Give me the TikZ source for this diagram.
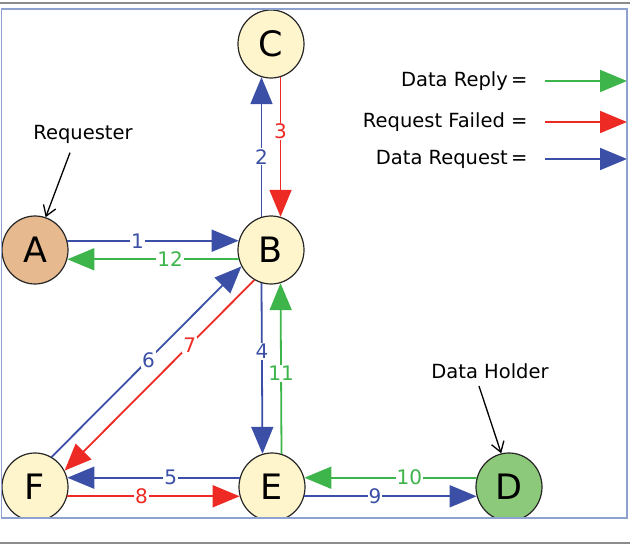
\documentclass[tikz,border=0pt]{standalone}
\usepackage{fontspec}
\setmainfont{DejaVu Sans}
\usetikzlibrary{arrows.meta, positioning, shapes.geometric}
\definecolor{reqblue}{HTML}{3A4FA5}
\definecolor{replygreen}{HTML}{3DB54A}
\definecolor{failred}{HTML}{EE2A24}
\definecolor{peerfill}{HTML}{FFF5CC}
\definecolor{askfill}{HTML}{E6BA8E}
\definecolor{holdfill}{HTML}{8CC97A}
\definecolor{framecol}{HTML}{8DA2CF}

\begin{document}
\begin{tikzpicture}[
        x=1pt, y=1pt,
        peer/.style={
            ellipse, draw=black!85, line width=1.2pt, fill=peerfill,
            minimum width=66pt, minimum height=68pt, inner sep=0pt,
            font=\fontsize{35}{35}\selectfont
        },
        msg/.style={line width=1.8pt, -{Triangle[length=27pt,width=22pt]}},
        num/.style={fill=white, inner sep=1pt, font=\fontsize{20}{20}\selectfont},
        note/.style={font=\fontsize{19.5}{20}\selectfont},
        pointer/.style={line width=1.3pt, -{Straight Barb[length=10pt,width=13pt]}}
    ]
        \useasboundingbox (0,0) rectangle (630,544);

        \begin{scope}
        \clip (1.5,26) rectangle (627,535);

        % Peers
        \node[peer, fill=askfill] (A) at (35,294) {A};
        \node[peer] (B) at (271,294) {B};
        \node[peer] (C) at (271,500) {C};
        \node[peer, fill=holdfill] (D) at (509,57) {D};
        \node[peer] (E) at (272,57) {E};
        \node[peer] (F) at (35,57) {F};

        % Messages
        \draw[msg, reqblue] (A.16) -- node[num, pos=0.41] {1} (B.164);
        \draw[msg, reqblue] (B.106) -- node[num, pos=0.43] {2} (C.254);
        \draw[msg, failred] (C.286) -- node[num, pos=0.39] {3} (B.74);
        \draw[msg, reqblue] (B.254) -- node[num, pos=0.4] {4} (E.106);
        \draw[msg, reqblue] (E.164) -- node[num, pos=0.4] {5} (F.16);
        \draw[msg, reqblue] (F.61) -- node[num, pos=0.51] {6} (B.209);
        \draw[msg, failred] (B.241) -- node[num, pos=0.34] {7} (F.29);
        \draw[msg, failred] (F.344) -- node[num, pos=0.43] {8} (E.196);
        \draw[msg, reqblue] (E.344) -- node[num, pos=0.41] {9} (D.196);
        \draw[msg, replygreen] (D.164) -- node[num, pos=0.39] {10} (E.16);
        \draw[msg, replygreen] (E.74) -- node[num, pos=0.47] {11} (B.286);
        \draw[msg, replygreen] (B.196) -- node[num, pos=0.4] {12} (A.344);

        % Roles
        \node[note] (asker) at (83,410) {Requester};
        \node[note] (holder) at (490,173) {Data Holder};
        \coordinate (askfrom) at ([xshift=-13pt,yshift=-6pt]asker.south);
        \draw[pointer] (askfrom) -- (A.72);
        \coordinate (holdfrom) at ([xshift=-11pt,yshift=-4pt]holder.south);
        \draw[pointer] (holdfrom) -- (D.103);

        % Legend
        \node[note, anchor=east] (reply) at (531,463) {Data Reply\,=};
        \node[note, anchor=east] (failed) at (531,422) {Request Failed =};
        \node[note, anchor=east] (request) at (531,385) {Data Request\,=};
        \coordinate (replyend) at (627,463);
        \coordinate (failedend) at (627,422);
        \coordinate (requestend) at (627,385);
        \draw[msg, replygreen] ([xshift=14pt]reply.east) -- (replyend);
        \draw[msg, failred] ([xshift=14pt]failed.east) -- (failedend);
        \draw[msg, reqblue] ([xshift=14pt]request.east) -- (requestend);
        \end{scope}

        % Frame
        \draw[framecol, line width=1.5pt] (1.5,26) rectangle (627,535);
        \draw[black!45, line width=1.2pt] (0,541) -- (630,541);
        \draw[black!45, line width=1.2pt] (0,1) -- (630,1);

    \end{tikzpicture}
\end{document}
